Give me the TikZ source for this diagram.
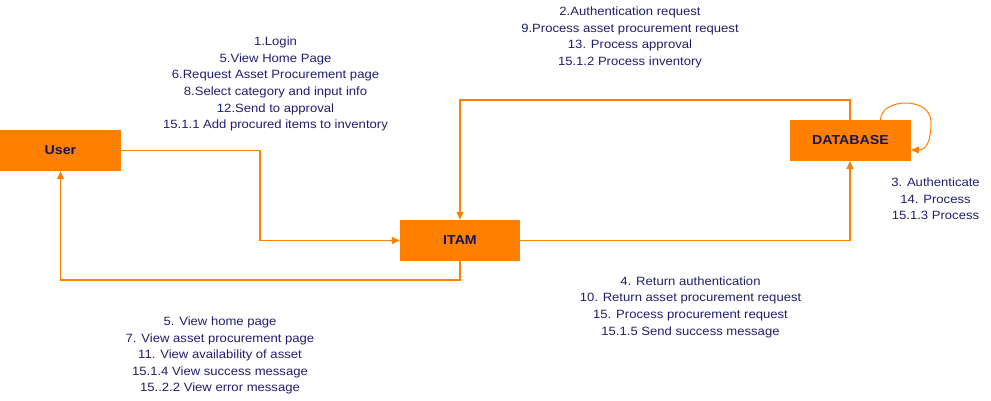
\documentclass[tikz,border=0pt]{standalone}
\usepackage{fontspec}
\setmainfont[FakeStretch=1.09]{Liberation Sans}
\usetikzlibrary{arrows.meta}
\definecolor{orng}{HTML}{FF8000}
\definecolor{navy}{RGB}{30,30,110}
\definecolor{boxtxt}{RGB}{20,20,90}
\begin{document}
\begin{tikzpicture}[x=1pt,y=-1pt,
  ent/.style={fill=orng,draw=none,minimum width=121pt,minimum height=41pt,inner sep=0pt,
    font=\fontsize{13}{15}\selectfont\bfseries,text=boxtxt},
  conn/.style={draw=orng,line width=1.3pt,-{Triangle[length=8pt,width=7pt]}},
  lbl/.style={align=center,text=navy,font=\fontsize{12}{16.6}\selectfont,inner sep=0pt}]
\useasboundingbox (0,0) rectangle (991,400);
\node[ent] (user) at (60.5,150.5) {User};
\node[ent,minimum width=120pt] (itam) at (460,240.5) {ITAM};
\node[ent] (db) at (850.5,140.5) {DATABASE};
\coordinate (dbt) at (850,120);
\coordinate (dbb) at (850,161);
\coordinate (loopS) at (880.5,120);
\coordinate (loopE) at (911,150);
% connectors
\draw[conn] (user.east) -- (260,150.5) |- (itam.west);
\draw[conn] (itam.south) -- (460,280) -| (user.south);
\draw[conn] (itam.east) -| (dbb);
\draw[conn] (dbt) -- (850,100) -| (itam.north);
\draw[conn,line width=1pt] (loopS) .. controls (880.5,98) and (931,96) .. (931,122)
   .. controls (931,142) and (926,150) .. (loopE);
% labels
\node[lbl] (l1) at (275.5,84) {1.Login\\5.View Home Page\\6.Request Asset Procurement page\\8.Select category and input info\\12.Send to approval\\15.1.1 Add procured items to inventory};
\node[lbl] (l2) at (630,37.5) {2.Authentication request\\9.Process asset procurement request\\13. Process approval\\15.1.2 Process inventory};
\node[lbl] (l3) at (935.5,199) {3. Authenticate\\14. Process\\15.1.3 Process};
\node[lbl] (l4) at (690.5,307) {4. Return authentication\\10. Return asset procurement request\\15. Process procurement request\\15.1.5 Send success message};
\node[lbl] (l5) at (220,355.5) {5. View home page\\7. View asset procurement page\\11. View availability of asset\\15.1.4 View success message\\15..2.2 View error message};
\end{tikzpicture}
\end{document}
